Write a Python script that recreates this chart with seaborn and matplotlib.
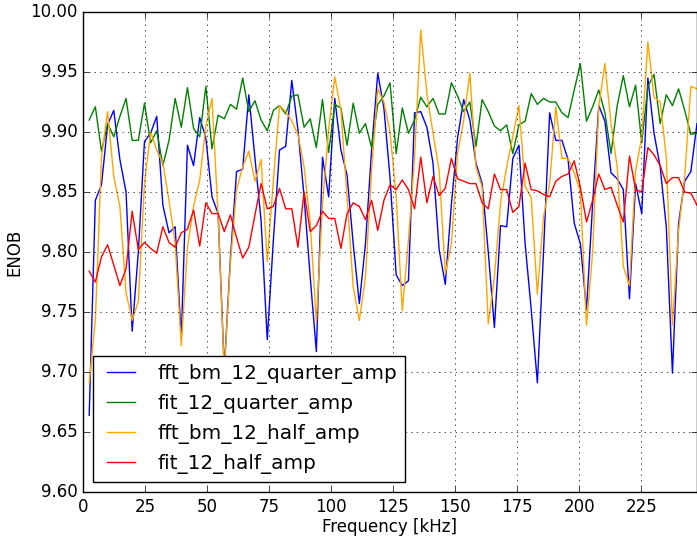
import numpy as np
import matplotlib
matplotlib.use("Agg")
import matplotlib.pyplot as plt
import seaborn as sns
from matplotlib.ticker import FormatStrFormatter

# old matplotlib look: inward ticks, dotted grid
plt.style.use("classic")
plt.rcParams["font.family"] = ["DejaVu Sans"]

# test frequencies in kHz
freq_khz = np.linspace(2.5, 247.5, 100)

fft_bm_12_quarter_amp = [
    9.664, 9.843, 9.856, 9.906, 9.918, 9.877, 9.850, 9.734, 9.800, 9.892,
    9.899, 9.913, 9.839, 9.816, 9.821, 9.728, 9.889, 9.872, 9.912, 9.895,
    9.846, 9.832, 9.702, 9.795, 9.867, 9.869, 9.931, 9.878, 9.826, 9.727,
    9.810, 9.885, 9.888, 9.943, 9.902, 9.846, 9.779, 9.717, 9.879, 9.846,
    9.928, 9.885, 9.864, 9.807, 9.757, 9.807, 9.885, 9.949, 9.920, 9.862,
    9.781, 9.772, 9.776, 9.916, 9.917, 9.904, 9.874, 9.802, 9.773, 9.840,
    9.895, 9.927, 9.910, 9.874, 9.857, 9.800, 9.737, 9.822, 9.821, 9.878,
    9.889, 9.807, 9.752, 9.691, 9.800, 9.916, 9.893, 9.893, 9.877, 9.824,
    9.807, 9.752, 9.840, 9.922, 9.909, 9.866, 9.861, 9.852, 9.761, 9.857,
    9.832, 9.945, 9.899, 9.871, 9.821, 9.699, 9.824, 9.859, 9.867, 9.907,
]

fit_12_quarter_amp = [
    9.910, 9.921, 9.884, 9.907, 9.896, 9.913, 9.928, 9.893, 9.893, 9.924,
    9.891, 9.901, 9.872, 9.893, 9.928, 9.904, 9.937, 9.903, 9.896, 9.938,
    9.886, 9.914, 9.911, 9.923, 9.919, 9.945, 9.917, 9.926, 9.910, 9.901,
    9.918, 9.922, 9.915, 9.930, 9.931, 9.904, 9.911, 9.887, 9.927, 9.883,
    9.923, 9.920, 9.889, 9.924, 9.899, 9.907, 9.887, 9.923, 9.930, 9.941,
    9.882, 9.920, 9.899, 9.910, 9.929, 9.921, 9.928, 9.915, 9.915, 9.941,
    9.930, 9.917, 9.925, 9.888, 9.927, 9.917, 9.905, 9.901, 9.906, 9.882,
    9.906, 9.909, 9.932, 9.923, 9.928, 9.925, 9.925, 9.916, 9.912, 9.935,
    9.957, 9.909, 9.921, 9.935, 9.916, 9.882, 9.922, 9.947, 9.921, 9.939,
    9.891, 9.938, 9.948, 9.907, 9.931, 9.922, 9.936, 9.918, 9.898, 9.899,
]

fft_bm_12_half_amp = [
    9.691, 9.743, 9.879, 9.917, 9.863, 9.838, 9.766, 9.743, 9.759, 9.857,
    9.900, 9.885, 9.874, 9.843, 9.807, 9.722, 9.804, 9.838, 9.860, 9.905,
    9.928, 9.830, 9.700, 9.791, 9.852, 9.871, 9.884, 9.859, 9.877, 9.792,
    9.860, 9.922, 9.917, 9.909, 9.898, 9.871, 9.824, 9.741, 9.840, 9.902,
    9.946, 9.918, 9.846, 9.771, 9.743, 9.779, 9.868, 9.936, 9.925, 9.900,
    9.846, 9.751, 9.810, 9.879, 9.985, 9.932, 9.899, 9.868, 9.782, 9.807,
    9.882, 9.910, 9.949, 9.871, 9.854, 9.740, 9.779, 9.841, 9.871, 9.896,
    9.922, 9.855, 9.845, 9.765, 9.829, 9.857, 9.921, 9.878, 9.878, 9.866,
    9.850, 9.739, 9.800, 9.921, 9.957, 9.907, 9.871, 9.788, 9.772, 9.868,
    9.896, 9.975, 9.929, 9.925, 9.879, 9.739, 9.818, 9.863, 9.938, 9.936,
]

fit_12_half_amp = [
    9.784, 9.775, 9.796, 9.806, 9.789, 9.772, 9.786, 9.834, 9.802, 9.808,
    9.803, 9.799, 9.821, 9.808, 9.804, 9.816, 9.819, 9.835, 9.805, 9.841,
    9.832, 9.832, 9.817, 9.831, 9.812, 9.795, 9.804, 9.831, 9.857, 9.836,
    9.838, 9.853, 9.836, 9.836, 9.804, 9.850, 9.817, 9.822, 9.834, 9.828,
    9.828, 9.803, 9.832, 9.841, 9.838, 9.827, 9.843, 9.818, 9.843, 9.856,
    9.852, 9.860, 9.852, 9.836, 9.879, 9.841, 9.863, 9.847, 9.853, 9.878,
    9.861, 9.859, 9.857, 9.857, 9.841, 9.836, 9.865, 9.852, 9.852, 9.833,
    9.838, 9.874, 9.852, 9.851, 9.848, 9.846, 9.859, 9.863, 9.865, 9.876,
    9.854, 9.825, 9.843, 9.865, 9.852, 9.854, 9.839, 9.825, 9.880, 9.852,
    9.850, 9.887, 9.881, 9.872, 9.857, 9.862, 9.862, 9.850, 9.849, 9.839,
]

series_names = ["fft_bm_12_quarter_amp", "fit_12_quarter_amp",
                "fft_bm_12_half_amp", "fit_12_half_amp"]
series_values = [fft_bm_12_quarter_amp, fit_12_quarter_amp,
                 fft_bm_12_half_amp, fit_12_half_amp]
series_colors = ["blue", "green", "orange", "red"]

fig = plt.figure(figsize=(6.97, 5.38), dpi=100, facecolor="white")
ax = fig.add_axes([83 / 697, 46 / 538, 614 / 697, 480 / 538])

for name, vals, color in zip(series_names, series_values, series_colors):
    sns.lineplot(x=freq_khz, y=vals, color=color, label=name, ax=ax,
                 linewidth=1.0, estimator=None, sort=False)

ax.set_xlim(0, 247.5)
ax.set_ylim(9.60, 10.00)
ax.set_xticks(np.arange(0, 226, 25))
ax.set_yticks(np.arange(9.60, 10.001, 0.05))
ax.yaxis.set_major_formatter(FormatStrFormatter("%.2f"))
ax.grid(True)
ax.set_xlabel("Frequency [kHz]", labelpad=2)
ax.set_ylabel("ENOB")
ax.legend(loc="lower left", fontsize="large")

fig.savefig("out.png", dpi=100, facecolor="white")
